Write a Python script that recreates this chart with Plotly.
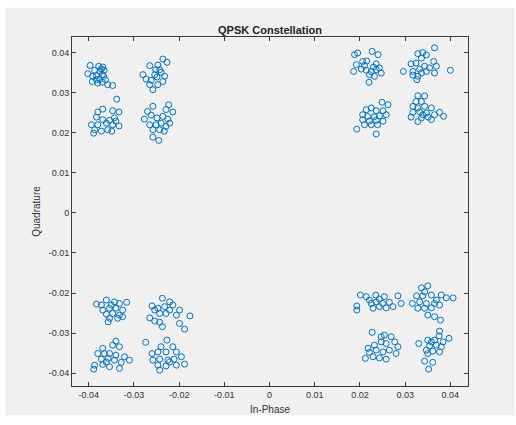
import plotly.graph_objects as go

# Received symbols, values in units of 1e-3
# Each cluster: (in-phase list, quadrature list)
clA_i = [-39.7, -37.8, -36.9, -40.2, -38.7, -37.5, -37.0, -38.3, -39.2, -38.0, -37.0, -36.3, -35.8, -34.7, -37.6, -36.7, -39.1, -38.3, -36.6, -37.2]
clA_q = [36.8, 36.6, 36.4, 34.75, 35.6, 35.3, 34.5, 34.25, 32.8, 32.4, 32.6, 33.25, 32.0, 31.8, 33.4, 34.1, 34.1, 33.25, 35.6, 35.9]
clB_i = [-26.5, -24.7, -23.6, -22.7, -24.3, -25.4, -28.0, -27.3, -26.2, -24.9, -23.2, -23.6, -25.8, -24.7, -26.5, -24.0, -25.2]
clB_q = [36.75, 36.9, 38.4, 37.6, 35.75, 34.5, 34.5, 33.4, 33.1, 33.9, 34.1, 32.8, 30.75, 32.0, 32.0, 35.1, 35.75]
clC_i = [-33.8, -36.9, -38.0, -34.7, -33.3, -38.3, -36.9, -35.4, -34.3, -39.4, -38.0, -36.1, -34.7, -33.3, -38.7, -37.2, -35.8, -34.9, -38.9, -34.0]
clC_q = [28.4, 25.9, 25.2, 25.5, 25.2, 23.9, 23.25, 23.1, 23.75, 22.0, 22.0, 22.4, 22.0, 21.7, 20.75, 20.4, 20.75, 20.4, 19.9, 22.9]
clD_i = [-25.8, -22.3, -22.9, -21.4, -27.7, -26.2, -24.9, -23.6, -22.5, -26.5, -25.1, -24.0, -22.9, -25.8, -24.3, -23.3, -25.8, -24.5, -27.0, -22.1]
clD_q = [26.6, 27.0, 25.8, 25.2, 23.4, 24.4, 23.7, 24.1, 23.4, 22.0, 22.0, 22.4, 21.6, 20.75, 20.75, 20.4, 18.9, 18.1, 25.3, 22.4]
clE_i = [18.8, 19.5, 22.7, 24.0, 19.2, 20.6, 21.5, 23.6, 18.6, 20.3, 21.4, 22.5, 23.6, 24.7, 24.3, 22.1, 23.2, 22.0, 21.0, 23.0]
clE_q = [39.5, 39.9, 40.3, 39.5, 37.0, 37.8, 37.9, 37.2, 35.3, 35.9, 35.6, 35.3, 35.75, 34.9, 36.2, 34.5, 34.1, 32.6, 36.8, 36.4]
clF_i = [36.5, 32.8, 34.7, 33.6, 31.3, 32.4, 36.3, 34.3, 33.2, 35.4, 36.9, 29.6, 31.7, 33.6, 34.7, 36.5, 40.0, 32.8, 32.6, 31.7, 33.9]
clF_q = [41.2, 39.75, 39.4, 38.6, 37.2, 37.4, 37.8, 36.6, 35.9, 36.2, 36.6, 35.3, 35.3, 34.9, 35.3, 34.9, 35.6, 34.1, 33.25, 34.4, 40.0]
clG_i = [24.9, 26.2, 21.4, 22.5, 23.6, 25.1, 20.6, 21.7, 23.2, 24.3, 25.8, 20.6, 22.1, 23.6, 25.1, 22.5, 23.9, 19.3, 23.6, 21.0]
clG_q = [27.6, 27.0, 25.75, 26.2, 25.5, 25.5, 24.5, 24.1, 24.0, 24.25, 24.5, 23.25, 22.9, 23.1, 22.9, 22.0, 22.0, 20.9, 19.7, 22.0]
clH_i = [32.8, 34.3, 33.6, 31.7, 32.8, 34.3, 35.8, 31.7, 33.2, 34.7, 36.5, 31.3, 33.6, 35.1, 37.6, 38.5, 32.8, 33.9, 35.8, 32.4]
clH_q = [29.25, 29.2, 27.8, 26.6, 26.2, 26.6, 26.2, 25.1, 25.25, 24.9, 24.5, 23.9, 23.7, 23.9, 25.1, 24.1, 22.8, 24.5, 23.3, 27.8]
clI_i = [-38.3, -36.1, -34.3, -33.2, -31.6, -36.9, -35.4, -34.0, -32.5, -36.1, -34.7, -33.2, -35.4, -35.7, -33.6, -32.5, -37.2, -35.0]
clI_q = [-22.75, -21.75, -22.2, -22.6, -22.3, -24.25, -23.8, -23.8, -24.25, -25.3, -25.1, -25.5, -26.3, -27.2, -26.3, -25.9, -23.0, -23.0]
clJ_i = [-23.7, -22.1, -26.0, -24.7, -23.2, -21.4, -19.9, -24.3, -22.9, -20.6, -26.5, -25.4, -24.3, -23.7, -19.9, -18.8, -17.6, -25.4, -22.1]
clJ_q = [-21.3, -22.2, -23.2, -23.8, -23.4, -23.0, -24.25, -25.1, -25.1, -25.5, -26.2, -27.0, -27.3, -28.4, -27.6, -29.0, -25.7, -24.25, -24.25]
clK_i = [-34.0, -36.9, -34.7, -33.2, -38.0, -36.5, -35.4, -34.0, -32.1, -37.2, -35.7, -34.3, -31.0, -38.7, -36.9, -35.4, -33.2, -38.9, -36.1, -32.8]
clK_q = [-32.0, -33.8, -33.0, -33.4, -35.1, -35.1, -35.1, -35.5, -35.9, -36.5, -36.3, -36.75, -36.75, -38.0, -37.8, -38.4, -38.8, -39.0, -37.2, -37.3]
clL_i = [-27.4, -22.7, -24.0, -21.4, -26.0, -24.7, -22.9, -20.6, -25.8, -24.3, -22.5, -21.1, -18.8, -24.7, -22.9, -20.6, -24.3, -22.1, -19.5]
clL_q = [-32.3, -31.75, -33.4, -33.4, -35.1, -34.7, -34.7, -34.7, -36.75, -36.5, -36.75, -36.5, -37.75, -38.0, -38.2, -38.0, -39.25, -37.2, -35.9]
clM_i = [20.1, 21.4, 23.5, 25.4, 28.4, 19.3, 19.3, 22.5, 23.6, 25.0, 26.5, 29.1, 22.9, 24.3, 25.8, 27.3, 22.1, 24.3]
clM_q = [-20.5, -20.9, -20.5, -20.9, -20.7, -23.25, -24.25, -22.6, -22.2, -22.6, -22.3, -22.6, -23.8, -23.4, -23.7, -23.4, -21.75, -21.5]
clN_i = [35.0, 33.6, 34.3, 32.5, 33.9, 35.8, 38.0, 39.1, 40.6, 31.6, 33.2, 34.7, 36.5, 37.6, 32.8, 34.3, 35.8, 35.0, 36.5, 37.8, 36.9]
clN_q = [-18.2, -18.7, -19.7, -20.7, -20.7, -20.5, -20.5, -21.2, -21.2, -22.6, -22.2, -22.6, -22.6, -23.0, -23.8, -23.8, -23.7, -25.5, -25.9, -26.75, -21.75]
clO_i = [22.7, 24.7, 26.9, 23.2, 24.7, 25.8, 27.7, 28.4, 22.1, 23.6, 25.1, 26.5, 28.0, 21.2, 22.9, 24.3, 25.8, 21.8, 25.4]
clO_q = [-29.8, -30.9, -30.9, -33.0, -32.2, -32.6, -32.2, -33.4, -34.8, -34.25, -34.7, -34.25, -35.1, -36.3, -35.9, -36.2, -36.5, -33.8, -30.5]
clP_i = [37.6, 37.5, 39.7, 33.0, 35.0, 36.5, 35.4, 36.9, 38.0, 34.7, 36.1, 37.6, 35.0, 34.3, 36.1, 35.2, 38.4, 35.8]
clP_q = [-29.5, -30.7, -31.3, -32.6, -31.75, -31.75, -33.2, -33.0, -33.4, -34.25, -34.5, -34.7, -35.1, -37.0, -37.3, -39.0, -32.2, -32.2]

clusters_i = [clA_i, clB_i, clC_i, clD_i, clE_i, clF_i, clG_i, clH_i,
              clI_i, clJ_i, clK_i, clL_i, clM_i, clN_i, clO_i, clP_i]
clusters_q = [clA_q, clB_q, clC_q, clD_q, clE_q, clF_q, clG_q, clH_q,
              clI_q, clJ_q, clK_q, clL_q, clM_q, clN_q, clO_q, clP_q]

in_phase = [v * 1e-3 for c in clusters_i for v in c]
quadrature = [v * 1e-3 for c in clusters_q for v in c]

tick_vals = [-0.04, -0.03, -0.02, -0.01, 0, 0.01, 0.02, 0.03, 0.04]
tick_text = ["-0.04", "-0.03", "-0.02", "-0.01", "0", "0.01", "0.02", "0.03", "0.04"]

FONT = "Liberation Sans, Arial, sans-serif"
AX = "#3a3a3a"

fig = go.Figure()
fig.add_trace(go.Scatter(
    x=in_phase, y=quadrature, mode="markers",
    marker=dict(symbol="circle-open", size=6, color="#0072BD",
                line=dict(width=1, color="#0072BD")),
    showlegend=False,
))

axis_common = dict(
    tickvals=tick_vals, ticktext=tick_text, showgrid=False, zeroline=False,
    showline=True, linecolor=AX, linewidth=1, mirror="ticks",
    ticks="inside", ticklen=4, tickcolor=AX, tickwidth=1,
    tickfont=dict(family=FONT, size=9, color="#333333"),
)

fig.update_layout(
    width=516, height=425,
    margin=dict(l=72, r=48, t=37, b=39),
    paper_bgcolor="white", plot_bgcolor="white",
    title=dict(text="<b>QPSK Constellation</b>", x=0.5, xref="paper",
               y=1 - 30 / 425, yanchor="middle",
               font=dict(family=FONT, size=11, color="#222222")),
    xaxis=dict(range=[-0.0437, 0.0439],
               title=dict(text="In-Phase", standoff=7,
                          font=dict(family=FONT, size=10, color="#333333")),
               **axis_common),
    yaxis=dict(range=[-0.0432, 0.0439],
               title=dict(text="Quadrature", standoff=6,
                          font=dict(family=FONT, size=10, color="#333333")),
               **axis_common),
    shapes=[dict(type="rect", xref="paper", yref="paper",
                 x0=-0.169, x1=1.119, y0=-0.084, y1=1.084,
                 fillcolor="#f0f0f0", line=dict(width=0), layer="below")],
)

fig.write_html("out.html")
